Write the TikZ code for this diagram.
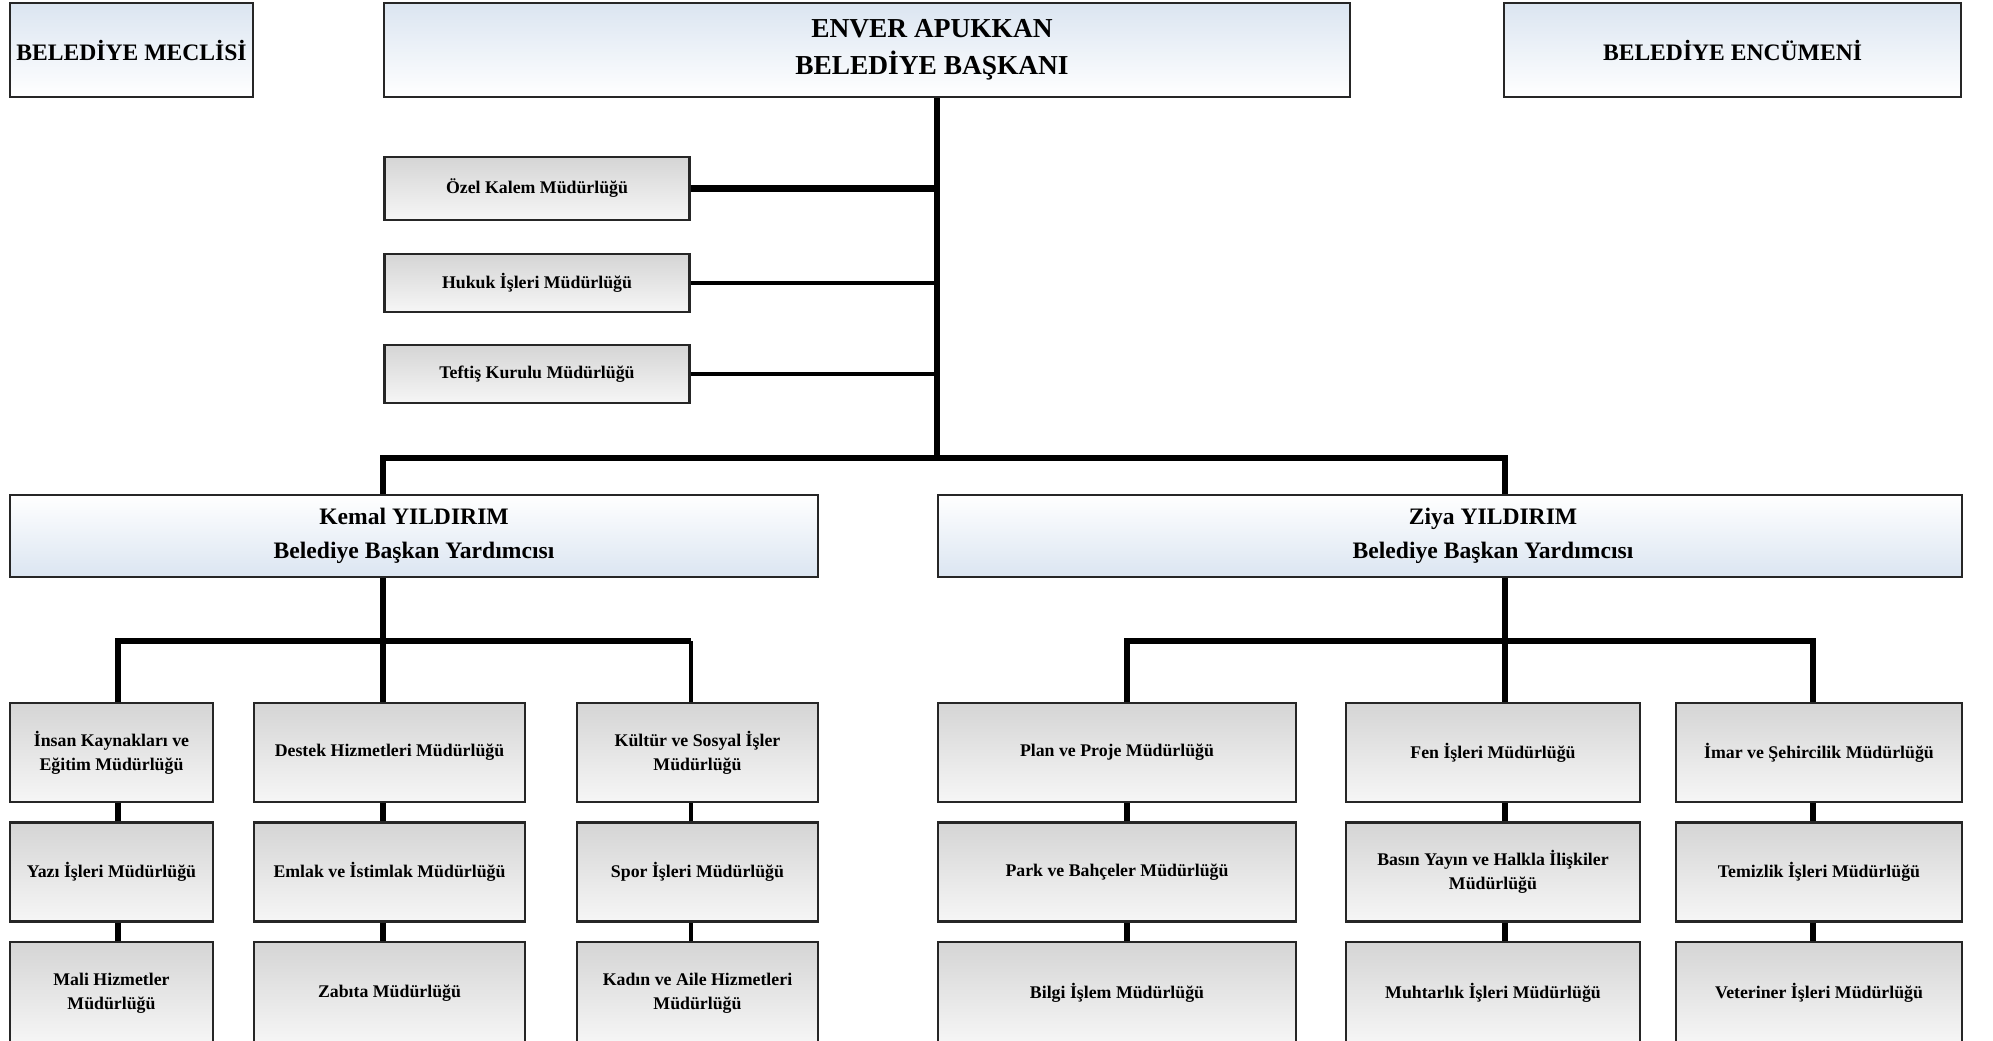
\documentclass[tikz,border=0pt]{standalone}
\usepackage{fontspec}
\setmainfont{Liberation Serif}
\usetikzlibrary{backgrounds}
\definecolor{mavi}{RGB}{219,229,241}
\definecolor{gri}{RGB}{213,213,213}
\definecolor{acik}{RGB}{246,246,246}

\begin{document}
\begin{tikzpicture}[
x=0.5pt, y=-0.5pt,
kutu/.style={rectangle,draw=black!85,line width=1.35pt,inner sep=2pt,align=center},
ust/.style={kutu,top color=mavi,bottom color=white,minimum height=47pt,font=\bfseries\fontsize{11.8}{17}\selectfont},
yrd/.style={kutu,top color=white,bottom color=mavi,minimum height=41pt,font=\bfseries\fontsize{11.8}{17}\selectfont},
birim/.style={kutu,top color=gri,bottom color=acik,minimum height=49.5pt,font=\bfseries\fontsize{8.9}{12}\selectfont},
hat/.style={line width=3.2pt},
ince/.style={line width=1.65pt},
]
\useasboundingbox (0,0) rectangle (1993,1040);
\clip (0,0) rectangle (1993,1040);

\node[ust,minimum width=121.5pt] (meclis) at (131.5,50) {BELEDİYE MECLİSİ};
\node[ust,minimum width=483pt,font=\bfseries\fontsize{13.7}{18.4}\selectfont] (baskan) at (867,50)
  {\hspace*{65pt}ENVER APUKKAN\\\hspace*{65pt}BELEDİYE BAŞKANI};
\node[ust,minimum width=228.5pt] (encumen) at (1732.5,50) {BELEDİYE ENCÜMENİ};

\node[birim,minimum width=152.5pt,minimum height=31.5pt] (ozel) at (537,188.5) {Özel Kalem Müdürlüğü};
\node[birim,minimum width=152.5pt,minimum height=29pt] (hukuk) at (537,283) {Hukuk İşleri Müdürlüğü};
\node[birim,minimum width=152.5pt,minimum height=29pt] (teftis) at (537,374) {Teftiş Kurulu Müdürlüğü};

\node[yrd,minimum width=404pt] (kemal) at (414,536) {Kemal YILDIRIM\\Belediye Başkan Yardımcısı};
\node[yrd,minimum width=512pt] (ziya) at (1450,536)
  {\hspace*{43pt}Ziya YILDIRIM\\\hspace*{43pt}Belediye Başkan Yardımcısı};

\node[birim,minimum width=101.5pt] (insan) at (111.5,752.5) {İnsan Kaynakları ve\\Eğitim Müdürlüğü};
\node[birim,minimum width=101.5pt] (yazi) at (111.5,872) {Yazı İşleri Müdürlüğü};
\node[birim,minimum width=101.5pt,minimum height=51pt] (mali) at (111.5,993) {Mali Hizmetler\\Müdürlüğü};
\node[birim,minimum width=135.5pt] (destek) at (389.5,752.5) {Destek Hizmetleri Müdürlüğü};
\node[birim,minimum width=135.5pt] (emlak) at (389.5,872) {Emlak ve İstimlak Müdürlüğü};
\node[birim,minimum width=135.5pt,minimum height=51pt] (zabita) at (389.5,993) {Zabıta Müdürlüğü};
\node[birim,minimum width=120.5pt] (kultur) at (697.5,752.5) {Kültür ve Sosyal İşler\\Müdürlüğü};
\node[birim,minimum width=120.5pt] (spor) at (697.5,872) {Spor İşleri Müdürlüğü};
\node[birim,minimum width=120.5pt,minimum height=51pt] (kadin) at (697.5,993) {Kadın ve Aile Hizmetleri\\Müdürlüğü};

\node[birim,minimum width=179pt] (plan) at (1117,752.5) {Plan ve Proje Müdürlüğü};
\node[birim,minimum width=179pt] (park) at (1117,872) {Park ve Bahçeler Müdürlüğü};
\node[birim,minimum width=179pt,minimum height=51pt] (bilgi) at (1117,993) {Bilgi İşlem Müdürlüğü};
\node[birim,minimum width=147pt] (fen) at (1493,752.5) {Fen İşleri Müdürlüğü};
\node[birim,minimum width=147pt] (basin) at (1493,872) {Basın Yayın ve Halkla İlişkiler\\Müdürlüğü};
\node[birim,minimum width=147pt,minimum height=51pt] (muhtar) at (1493,993) {Muhtarlık İşleri Müdürlüğü};
\node[birim,minimum width=143pt] (imar) at (1819,752.5) {İmar ve Şehircilik Müdürlüğü};
\node[birim,minimum width=143pt] (temizlik) at (1819,872) {Temizlik İşleri Müdürlüğü};
\node[birim,minimum width=143pt,minimum height=51pt] (veteriner) at (1819,993) {Veteriner İşleri Müdürlüğü};

\coordinate (ana) at (937,458);
\coordinate (kb) at (383,641);
\coordinate (k1) at (118,641);
\coordinate (k3) at (691,641);
\coordinate (zb) at (1505,641);
\coordinate (z1) at (1127,641);
\coordinate (z3) at (1813,641);

\begin{scope}[on background layer]
\draw[hat] (baskan.south -| ana) -- (ana);
\draw[hat] (ozel.east) -- (ozel.east -| ana);
\draw[ince] (hukuk.east) -- (hukuk.east -| ana);
\draw[ince] (teftis.east) -- (teftis.east -| ana);
\draw[hat] (kemal.north -| kb) |- (ana) -| (ziya.north -| zb);

\draw[hat] (kemal.south -| kb) -- (kb |- zabita.north);
\draw[hat] (k1 |- mali.north) -- (k1) -- (k3);
\draw[ince] (k3) -- (k3 |- kadin.north);

\draw[hat] (ziya.south -| zb) -- (zb |- muhtar.north);
\draw[hat] (z1 |- bilgi.north) -- (z1) -- (z3) -- (z3 |- veteriner.north);
\end{scope}
\end{tikzpicture}
\end{document}
